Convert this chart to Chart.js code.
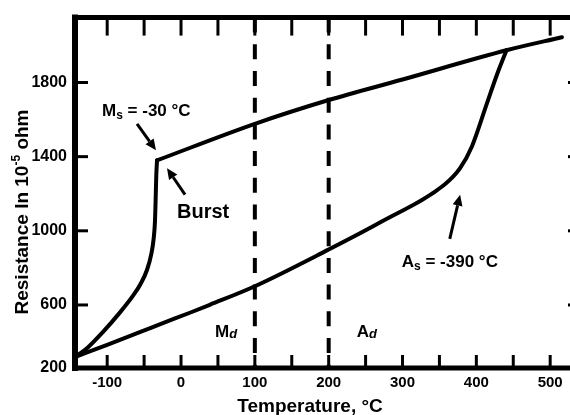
<!DOCTYPE html>
<html>
<head>
<meta charset="utf-8">
<script src="https://cdn.jsdelivr.net/npm/chart.js@4.4.1/dist/chart.umd.min.js"></script>
<style>
html,body{margin:0;padding:0;overflow:hidden;background:#fff}
canvas{display:block}
</style>
</head>
<body>
<canvas id="c" width="580" height="415"></canvas>
<script>
// valeurs (T en °C, R en 10^-5 ohm)
var coolT = [-143.6, -127, -105.6, -82.6, -65, -55, -46, -40, -37, -35.3, -34.5, -33.5, -32.5]
var coolR = [319, 368, 455, 560, 650, 712, 790, 880, 960, 1050, 1150, 1300, 1380]

var upperT = [-32.5, 100, 199, 300, 442, 516]
var upperR = [1380, 1577, 1704, 1816, 1975, 2044]

var heatT = [-143.6, -100, -51.5, -28, 12, 39, 100, 199, 270, 357, 378, 394, 414, 428, 441]
var heatR = [319, 385, 460, 497, 558, 601, 701, 897, 1046, 1250, 1338, 1455, 1683, 1843, 1975]

var dashT = [100, 200]   // Md et Ad

var xTickValues = [-100, -50, 0, 50, 100, 150, 200, 250, 300, 350, 400, 450, 500]
var yTickValues = [260, 600, 1000, 1400, 1800]
var yTickLabels = ['200', '600', '1000', '1400', '1800']

var xMin = -143.6, xMax = 540.4, yMin = 260, yMax = 2150

var FONT = '"Liberation Sans", Arial, sans-serif'

// annotations (en coordonnées des données)
var notes = [
    {parts: [['M', 17, 0], ['s', 12, 3], [' = -30 °C', 17, 0]], T: -107, R: 1619},
    {parts: [['Burst', 20, 0]], T: -5.4, R: 1067},
    {parts: [['A', 17, 0], ['s', 12, 3], [' = -390 °C', 17, 0]], T: 299, R: 807},
    {parts: [['M', 17, 0], ['d', 13, 1, 'italic']], T: 46, R: 425},
    {parts: [['A', 17, 0], ['d', 13, 1, 'italic']], T: 238, R: 425}
]
var arrows = [
    [-59.6, 1577, -33.9, 1434],
    [5.4, 1195, -19, 1338],
    [364, 956, 378, 1195]
]

function pts(xs, ys) {
    return xs.map(function (x, i) { return {x: x, y: ys[i]} })
}

var curve = {showLine: true, borderColor: '#000', borderWidth: 4, pointRadius: 0,
    cubicInterpolationMode: 'monotone', borderJoinStyle: 'round', borderCapStyle: 'round'}

var datasets = [
    Object.assign({data: pts(coolT, coolR)}, curve),
    Object.assign({data: pts(upperT, upperR)}, curve),
    Object.assign({data: pts(heatT, heatR)}, curve)
]
dashT.forEach(function (t) {
    datasets.push({data: [{x: t, y: yMax}, {x: t, y: yMin}], showLine: true, borderColor: '#000',
        borderWidth: 4, borderDash: [15, 11.7], pointRadius: 0, borderCapStyle: 'butt'})
})

function drawParts(ctx, parts, x, y) {
    var cx = x
    parts.forEach(function (p) {
        ctx.font = (p[3] ? p[3] + ' ' : '') + 'bold ' + p[1] + 'px ' + FONT
        ctx.fillText(p[0], cx, y + p[2])
        cx += ctx.measureText(p[0]).width
    })
    return cx - x
}
function partsWidth(ctx, parts) {
    var w = 0
    parts.forEach(function (p) {
        ctx.font = (p[3] ? p[3] + ' ' : '') + 'bold ' + p[1] + 'px ' + FONT
        w += ctx.measureText(p[0]).width
    })
    return w
}

const framePlugin = {
    id: 'frame',
    afterDraw: function (chart) {
        const ctx = chart.ctx, a = chart.chartArea
        const sx = chart.scales.x, sy = chart.scales.y
        ctx.save()
        ctx.strokeStyle = '#000'
        ctx.fillStyle = '#000'
        // cadre
        ctx.lineCap = 'square'
        ctx.lineWidth = 6
        ctx.beginPath(); ctx.moveTo(a.left, a.top); ctx.lineTo(a.left, a.bottom); ctx.stroke()
        ctx.lineWidth = 5
        ctx.beginPath(); ctx.moveTo(a.left, a.top); ctx.lineTo(a.right, a.top); ctx.stroke()
        ctx.beginPath(); ctx.moveTo(a.left, a.bottom); ctx.lineTo(a.right, a.bottom); ctx.stroke()
        ctx.beginPath(); ctx.moveTo(a.right, a.top); ctx.lineTo(a.right, a.bottom); ctx.stroke()
        // graduations vers l'interieur
        ctx.lineCap = 'butt'
        ctx.lineWidth = 3
        xTickValues.forEach(function (v) {
            var px = sx.getPixelForValue(v)
            ctx.beginPath(); ctx.moveTo(px, a.bottom); ctx.lineTo(px, a.bottom - 13); ctx.stroke()
            ctx.beginPath(); ctx.moveTo(px, a.top); ctx.lineTo(px, a.top + 18); ctx.stroke()
        })
        yTickValues.slice(1).forEach(function (v) {
            var py = sy.getPixelForValue(v)
            ctx.beginPath(); ctx.moveTo(a.left, py); ctx.lineTo(a.left + 13, py); ctx.stroke()
            ctx.beginPath(); ctx.moveTo(a.right, py); ctx.lineTo(a.right - 12, py); ctx.stroke()
        })
        // titres des axes
        ctx.textBaseline = 'alphabetic'
        ctx.textAlign = 'left'
        var xt = [['Temperature, °C', 19, 0]]
        drawParts(ctx, xt, 310 - partsWidth(ctx, xt) / 2, 412)
        var yt = [['Resistance In 10', 19, 0], ['-5', 12, -8], [' ohm', 19, 0]]
        ctx.save()
        ctx.translate(28, 212)
        ctx.rotate(-Math.PI / 2)
        drawParts(ctx, yt, -partsWidth(ctx, yt) / 2, 0)
        ctx.restore()
        // textes
        notes.forEach(function (n) {
            drawParts(ctx, n.parts, sx.getPixelForValue(n.T), sy.getPixelForValue(n.R))
        })
        // fleches
        ctx.lineWidth = 3
        arrows.forEach(function (ar) {
            var x0 = sx.getPixelForValue(ar[0]), y0 = sy.getPixelForValue(ar[1])
            var x1 = sx.getPixelForValue(ar[2]), y1 = sy.getPixelForValue(ar[3])
            var ang = Math.atan2(y1 - y0, x1 - x0), hl = 11, hw = 5
            var bx = x1 - hl * Math.cos(ang), by = y1 - hl * Math.sin(ang)
            ctx.beginPath(); ctx.moveTo(x0, y0); ctx.lineTo(bx, by); ctx.stroke()
            ctx.beginPath()
            ctx.moveTo(x1, y1)
            ctx.lineTo(bx + hw * Math.sin(ang), by - hw * Math.cos(ang))
            ctx.lineTo(bx - hw * Math.sin(ang), by + hw * Math.cos(ang))
            ctx.closePath(); ctx.fill()
        })
        ctx.restore()
    }
}

var chart = new Chart(document.getElementById('c'), {
    type: 'scatter',
    data: {datasets: datasets},
    options: {
        responsive: false,
        animation: false,
        layout: {padding: {top: 12, left: 0, right: 0, bottom: 0}},
        plugins: {legend: {display: false}, tooltip: {enabled: false}},
        scales: {
            x: {
                type: 'linear', min: xMin, max: xMax,
                afterBuildTicks: function (s) { s.ticks = xTickValues.map(function (v) { return {value: v} }) },
                afterFit: function (s) { s.height = 47 },
                grid: {display: false, drawTicks: false}, border: {display: false},
                ticks: {
                    autoSkip: false, maxRotation: 0, padding: 6, color: '#000',
                    font: {family: FONT, size: 15, weight: 'bold'},
                    callback: function (v) { return v % 100 === 0 ? String(v) : '' }
                }
            },
            y: {
                type: 'linear', min: yMin, max: yMax,
                afterBuildTicks: function (s) { s.ticks = yTickValues.map(function (v) { return {value: v} }) },
                afterFit: function (s) { s.width = 75 },
                grid: {display: false, drawTicks: false}, border: {display: false},
                ticks: {
                    autoSkip: false, padding: 8, color: '#000',
                    font: {family: FONT, size: 16, weight: 'bold'},
                    callback: function (v, i) { return yTickLabels[i] }
                }
            }
        }
    },
    plugins: [framePlugin]
})
</script>
</body>
</html>
